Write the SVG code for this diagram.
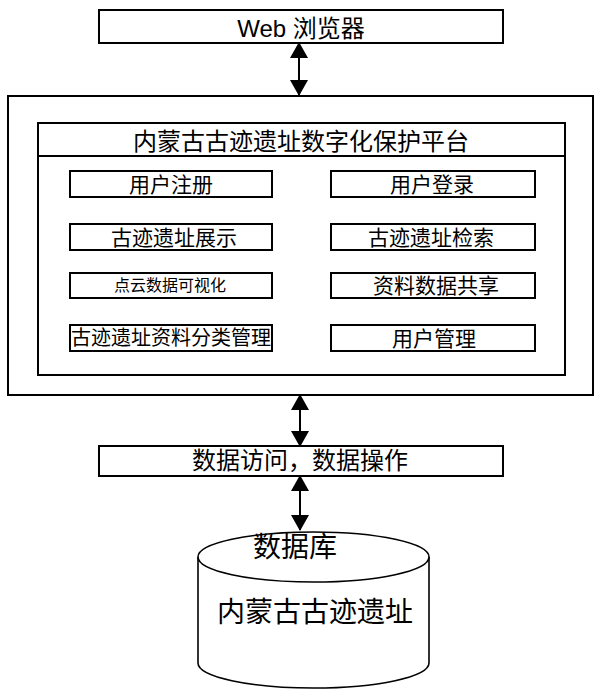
<svg xmlns="http://www.w3.org/2000/svg" width="600" height="694" viewBox="0 0 600 694">
<style>
.box{fill:#fff;stroke:#000;stroke-width:2}
.t{font-family:"Noto Sans CJK SC","Liberation Sans",sans-serif;fill:#000;text-anchor:middle}
.w{font-family:"Liberation Sans","Noto Sans CJK SC",sans-serif;fill:#000;text-anchor:middle}
.conn{stroke:#000;stroke-width:2;fill:none;marker-start:url(#ah);marker-end:url(#ah)}
.cyl{fill:#fff;stroke:#000;stroke-width:1.6}
</style>
<defs>
<marker id="ah" viewBox="0 0 16 18" refX="15" refY="9" markerWidth="16" markerHeight="18" markerUnits="userSpaceOnUse" orient="auto-start-reverse">
<path d="M0,0 L16,9 L0,18 z" fill="#000"/>
</marker>
</defs>
<rect width="600" height="694" fill="#fff"/>
<g id="browser">
<rect class="box" x="99" y="10" width="404" height="33"/>
<text class="w" x="301" y="37" font-size="24">Web 浏览器</text>
</g>
<g id="platform">
<rect class="box" x="8" y="96" width="585" height="299"/>
<rect class="box" x="38" y="123" width="527" height="252"/>
<line x1="38" y1="156" x2="565" y2="156" stroke="#000" stroke-width="2"/>
<text class="t" x="301" y="150" font-size="24">内蒙古古迹遗址数字化保护平台</text>
</g>
<g id="reg"><rect class="box" x="70" y="171" width="202" height="26"/><text class="t" x="171" y="192" font-size="21">用户注册</text></g>
<g id="login"><rect class="box" x="331" y="171" width="204" height="26"/><text class="t" x="432" y="192" font-size="21">用户登录</text></g>
<g id="show"><rect class="box" x="70" y="224" width="202" height="26"/><text class="t" x="174" y="245" font-size="21">古迹遗址展示</text></g>
<g id="search"><rect class="box" x="331" y="224" width="204" height="26"/><text class="t" x="431" y="245" font-size="21">古迹遗址检索</text></g>
<g id="pointcloud"><rect class="box" x="70" y="273" width="202" height="25"/><text class="t" x="170" y="291" font-size="16">点云数据可视化</text></g>
<g id="share"><rect class="box" x="331" y="273" width="204" height="25"/><text class="t" x="436" y="293" font-size="21">资料数据共享</text></g>
<g id="classify"><rect class="box" x="70" y="325" width="202" height="26"/><text class="t" x="171" y="345" font-size="20">古迹遗址资料分类管理</text></g>
<g id="usermgr"><rect class="box" x="331" y="325" width="204" height="26"/><text class="t" x="434" y="346" font-size="21">用户管理</text></g>
<g id="dataaccess">
<rect class="box" x="99" y="446" width="404" height="30"/>
<text class="t" x="300" y="469" font-size="24">数据访问，数据操作</text>
</g>
<g id="database">
<path class="cyl" d="M198,557 L198,663 A115.5,25 0 0 0 429,663 L429,557"/>
<ellipse class="cyl" cx="313.5" cy="557" rx="115.5" ry="25"/>
<text class="t" x="295" y="557" font-size="28">数据库</text>
<text class="t" x="315" y="622" font-size="28">内蒙古古迹遗址</text>
</g>
<g id="connectors">
<line class="conn" x1="299" y1="43" x2="299" y2="95"/>
<line class="conn" x1="300" y1="395" x2="300" y2="446"/>
<line class="conn" x1="300" y1="476" x2="300" y2="530"/>
</g>
</svg>
